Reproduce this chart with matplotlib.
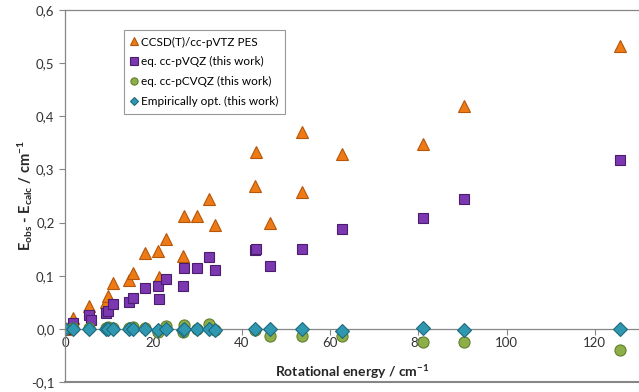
import matplotlib
matplotlib.use("Agg")
import matplotlib.pyplot as plt
from matplotlib.ticker import FuncFormatter

plt.rcParams['font.family'] = ['Lato', 'DejaVu Sans']
plt.rcParams['mathtext.fontset'] = 'custom'
plt.rcParams['mathtext.rm'] = 'Lato:bold'
plt.rcParams['mathtext.it'] = 'Lato:bold'
plt.rcParams['mathtext.bf'] = 'Lato:bold'

# CCSD(T)/cc-pVTZ PES
x_pes = [0, 1.75, 5.5, 9.2, 9.7, 10.8, 14.4, 15.4, 18.2, 21.1, 21.2, 22.95, 26.7, 27.0,
         29.8, 32.6, 33.9, 43.0, 43.2, 46.4, 53.6, 53.6, 62.7, 81.1, 90.3, 125.8]
y_pes = [0.0, 0.02, 0.043, 0.05, 0.061, 0.086, 0.092, 0.106, 0.143, 0.147, 0.097, 0.169, 0.137, 0.213,
         0.213, 0.245, 0.195, 0.268, 0.332, 0.200, 0.370, 0.257, 0.329, 0.348, 0.419, 0.532]

# eq. cc-pVQZ
x_vqz = [0, 1.75, 5.5, 5.8, 9.2, 9.7, 10.8, 14.4, 15.4, 18.2, 21.1, 21.2, 22.95, 26.7, 27.0,
         29.8, 32.6, 33.9, 43.0, 43.2, 46.4, 53.6, 62.7, 81.1, 90.3, 125.8]
y_vqz = [0.0, 0.011, 0.026, 0.017, 0.03, 0.034, 0.047, 0.05, 0.059, 0.077, 0.08, 0.056, 0.094, 0.08, 0.114,
         0.114, 0.135, 0.111, 0.149, 0.150, 0.119, 0.150, 0.188, 0.208, 0.245, 0.318]

# eq. cc-pCVQZ
x_cvqz = [0, 1.75, 5.5, 9.2, 9.7, 10.8, 14.4, 15.4, 18.2, 21.1, 22.95, 26.7, 27.0,
          29.8, 32.6, 33.9, 43.0, 46.4, 53.6, 62.7, 81.1, 90.3, 125.8]
y_cvqz = [0.0, 0.001, 0.002, 0.002, 0.004, 0.002, 0.001, 0.003, 0.002, -0.006, 0.005, -0.006, 0.007,
          0.0, 0.009, -0.003, -0.003, -0.013, -0.013, -0.014, -0.025, -0.025, -0.040]

# Empirically opt.
x_emp = [0, 1.75, 5.5, 9.2, 9.7, 10.8, 14.4, 15.4, 18.2, 21.1, 22.95, 26.7, 27.0,
         29.8, 32.6, 33.9, 43.0, 46.4, 53.6, 62.7, 81.1, 90.3, 125.8]
y_emp = [0.0, -0.001, 0.0, 0.0, 0.0, 0.0, 0.0, 0.0, 0.0, -0.003, 0.0, -0.002, 0.0,
         -0.001, 0.0, -0.002, 0.0, 0.0, 0.0, -0.004, 0.001, -0.003, 0.0]

fig = plt.figure(figsize=(6.39, 3.92), dpi=100)
ax = fig.add_axes([0.1017, 0.0255, 0.8983, 0.949])

ax.plot(x_pes, y_pes, ls='none', marker='^', ms=9, mfc='#EE7A16', mec='#B5560A', mew=0.8,
        label='CCSD(T)/cc-pVTZ PES')
ax.plot(x_vqz, y_vqz, ls='none', marker='s', ms=7.8, mfc='#7B38B0', mec='#4A1E6C', mew=0.8,
        label='eq. cc-pVQZ (this work)')
ax.plot(x_cvqz, y_cvqz, ls='none', marker='o', ms=8, mfc='#8DAE48', mec='#61802C', mew=0.8,
        label='eq. cc-pCVQZ (this work)')
ax.plot(x_emp, y_emp, ls='none', marker='D', ms=7, mfc='#2F98B0', mec='#1D6A7D', mew=0.8,
        label='Empirically opt. (this work)')

ax.set_xlim(0, 130)
ax.set_ylim(-0.1, 0.6)
ax.set_yticks([-0.1, 0.0, 0.1, 0.2, 0.3, 0.4, 0.5, 0.6])
ax.set_xticks([0, 20, 40, 60, 80, 100, 120])
ax.yaxis.set_major_formatter(FuncFormatter(lambda v, p: ('%.1f' % v).replace('.', ',')))

for s in ['left', 'top']:
    ax.spines[s].set_color('#868686')
    ax.spines[s].set_linewidth(0.9)
ax.spines['right'].set_visible(False)
ax.spines['bottom'].set_position(('data', 0))
ax.spines['bottom'].set_color('#868686')
ax.spines['bottom'].set_linewidth(0.9)
ax.spines['bottom'].set_zorder(0.5)
ax.axhline(-0.1, color='#868686', lw=1.5, clip_on=False)

ax.tick_params(axis='both', colors='#868686', labelcolor='#333333', labelsize=9.5, length=4, width=0.8)
ax.tick_params(axis='x', direction='out', pad=2)

fig.text(0.551, 0.051, r'Rotational energy / cm$^{-1}$', ha='center', va='center',
         fontsize=10, fontweight='bold', color='#262626')
fig.text(0.04, 0.5, r'E$_{obs}$ - E$_{calc}$ / cm$^{-1}$', ha='center', va='center',
         rotation=90, fontsize=10.5, fontweight='bold', color='#262626')

leg = ax.legend(loc='upper left', bbox_to_anchor=(0.092, 0.962), fontsize=8.5, frameon=True,
                fancybox=False, edgecolor='#808080', handlelength=0.6, handletextpad=0.3,
                markerscale=0.65, labelspacing=0.75, borderpad=0.55)
leg.get_frame().set_linewidth(0.8)

fig.savefig('out.png', dpi=100)
